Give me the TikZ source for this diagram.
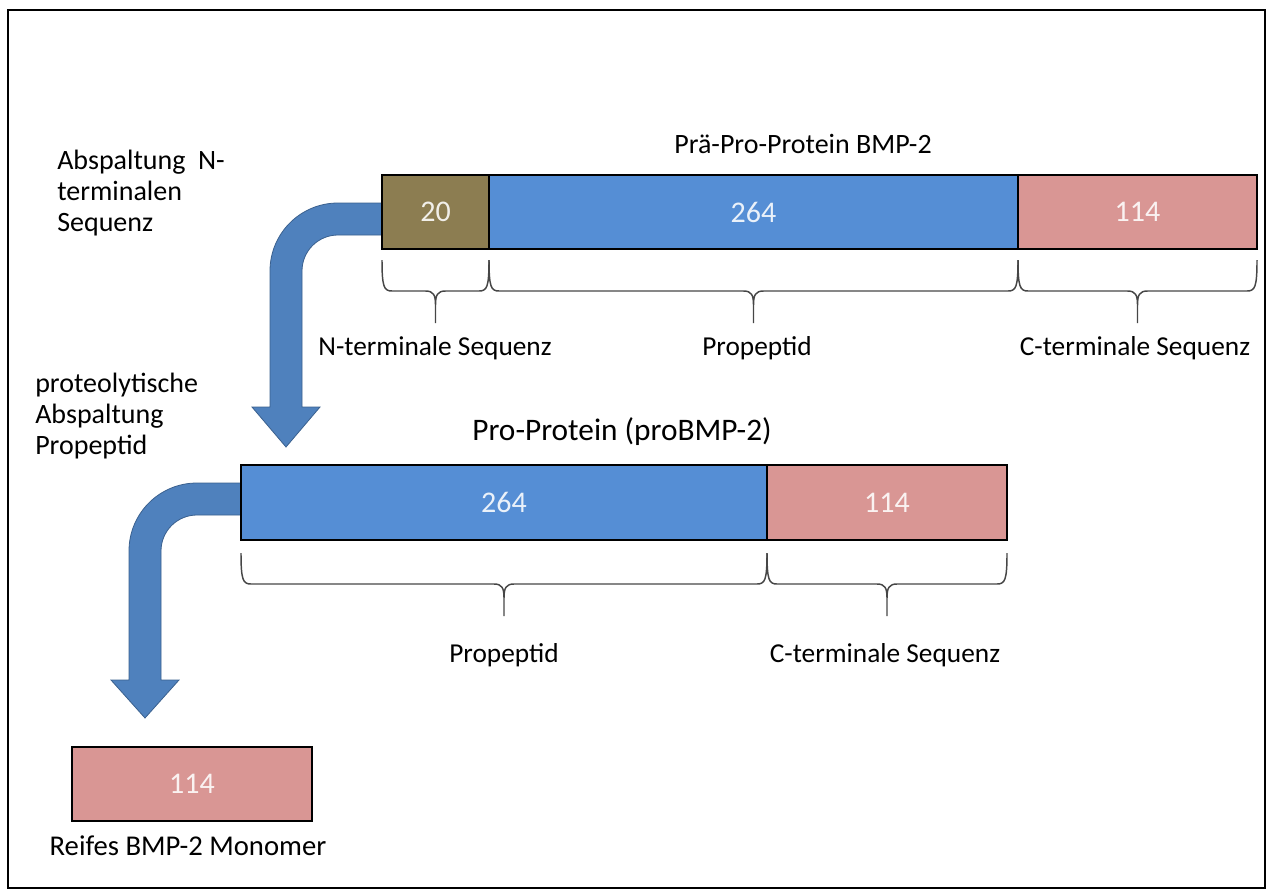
\documentclass[tikz,border=0pt]{standalone}
\usepackage{fontspec}
\setmainfont{Carlito}
\usepackage{xcolor}
\definecolor{olivbraun}{RGB}{140,125,81}
\definecolor{balkenblau}{RGB}{85,142,213}
\definecolor{lachsrot}{RGB}{217,150,148}
\definecolor{pfeilblau}{RGB}{79,129,189}
\definecolor{pfeilrand}{RGB}{58,96,142}
\definecolor{klammergrau}{RGB}{70,70,70}

% geschweifte Klammer: linke x, rechte x, obere y
\newcommand{\klammer}[3]{%
  \draw[klammerlinie] (#1,#3) .. controls (#1,#3+27) and (#1+2,#3+31) .. (#1+10,#3+31)
    -- ({(#1+#2)/2-10},#3+31) .. controls ({(#1+#2)/2-2},#3+31) and ({(#1+#2)/2},#3+35) .. ({(#1+#2)/2},#3+45)
    -- ({(#1+#2)/2},#3+63)
    ({(#1+#2)/2},#3+45) .. controls ({(#1+#2)/2},#3+35) and ({(#1+#2)/2+2},#3+31) .. ({(#1+#2)/2+10},#3+31)
    -- (#2-10,#3+31) .. controls (#2-2,#3+31) and (#2,#3+27) .. (#2,#3);}

\begin{document}
\begin{tikzpicture}[x=0.75pt,y=-0.75pt,
  segment/.style={draw, line width=1.5pt, inner sep=0pt, outer sep=0pt,
    minimum height=74*0.75pt, text=white, text opacity=.88,
    font=\fontsize{22.5}{26}\selectfont},
  klammerlinie/.style={klammergrau, line width=1.1pt},
  blockpfeil/.style={fill=pfeilblau, draw=pfeilrand, line width=.6pt},
  beschriftung/.style={inner sep=0pt, font=\fontsize{20.5}{24}\selectfont},
  schritt/.style={inner sep=0pt, align=left, font=\fontsize{21}{23}\selectfont}]
\useasboundingbox (0,0) rectangle (1270,893);
\draw[line width=1.5pt] (8,10) rectangle (1265,888);

% Blockpfeile (zuerst, damit die Balken darueber liegen)
\filldraw[blockpfeil] (382,203) -- (338,203) .. controls (300.4,203) and (270,233.4) .. (270,271)
  -- (270,407) -- (252,407) -- (286,447) -- (320,407) -- (302,407) -- (302,271)
  .. controls (302,251.1) and (318.1,235) .. (338,235) -- (382,235) -- cycle;
\filldraw[blockpfeil] (241,483) -- (197,483) .. controls (159.4,483) and (129,513.4) .. (129,551)
  -- (129,680) -- (111,680) -- (145,718) -- (179,680) -- (161,680) -- (161,551)
  .. controls (161,531.1) and (177.1,515) .. (197,515) -- (241,515) -- cycle;

% Prae-Pro-Protein
\node[beschriftung, anchor=base, font=\fontsize{21}{24}\selectfont] (titelA) at (803,153) {Prä-Pro-Protein BMP-2};
\node[segment, fill=olivbraun, minimum width=107*0.75pt] (nA) at (435.5,212) {20};
\node[segment, fill=balkenblau, minimum width=529*0.75pt] (pA) at (753.5,212) {264};
\node[segment, fill=lachsrot, minimum width=239*0.75pt] (cA) at (1137.5,212) {114};
\klammer{382}{489}{260}
\klammer{489}{1018}{260}
\klammer{1018}{1257}{260}
\node[beschriftung, anchor=base] (lbNA) at (435,355) {N-terminale Sequenz};
\node[beschriftung, anchor=base] (lbPA) at (757,355) {Propeptid};
\node[beschriftung, anchor=base] (lbCA) at (1135,355) {C-terminale Sequenz};

% Pro-Protein
\node[beschriftung, anchor=base, font=\fontsize{23.5}{26}\selectfont] (titelB) at (622,440) {Pro-Protein (proBMP-2)};
\node[segment, fill=balkenblau, minimum width=526*0.75pt, minimum height=75*0.75pt] (pB) at (504,502.5) {264};
\node[segment, fill=lachsrot, minimum width=240*0.75pt, minimum height=75*0.75pt] (cB) at (887,502.5) {114};
\klammer{241}{767}{553}
\klammer{767}{1007}{553}
\node[beschriftung, anchor=base] (lbPB) at (504,662) {Propeptid};
\node[beschriftung, anchor=base] (lbCB) at (885,662) {C-terminale Sequenz};

% reifes Monomer
\node[segment, fill=lachsrot, minimum width=240*0.75pt] (cC) at (192,784) {114};
\node[beschriftung, anchor=base, font=\fontsize{21.5}{24}\selectfont] (lbReif) at (188,855) {Reifes BMP-2 Monomer};

% Schritte
\node[schritt, anchor=north west] (schrittA) at (57,150) {Abspaltung\ \ N-\\terminalen\\Sequenz};
\node[schritt, anchor=north west] (schrittB) at (35,373) {proteolytische\\Abspaltung\\Propeptid};
\end{tikzpicture}
\end{document}
